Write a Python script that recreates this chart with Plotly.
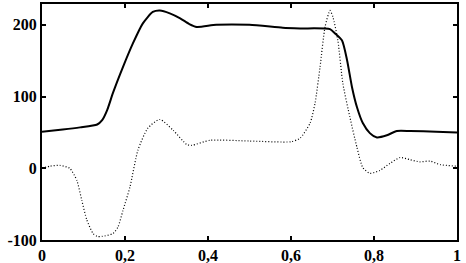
import plotly.graph_objects as go

# Solid curve
x_solid = [0.0, 0.05, 0.092, 0.133, 0.145, 0.157, 0.171, 0.195, 0.219, 0.243, 0.267, 0.284, 0.308,
           0.333, 0.355, 0.373, 0.42, 0.50, 0.58, 0.622, 0.694, 0.706, 0.723, 0.735, 0.747, 0.759,
           0.773, 0.79, 0.807, 0.831, 0.855, 0.887, 0.95, 1.0]
y_solid = [51, 54, 57, 61, 67, 81, 105, 141, 174, 202, 218, 220, 216,
           209, 201, 197, 200, 200, 196, 195, 194, 188, 178, 151, 113, 85,
           63, 49, 43, 46, 52, 52, 51, 50]

# Dotted curve
x_dot = [0.0, 0.02, 0.043, 0.067, 0.084, 0.096, 0.108, 0.123, 0.133, 0.145, 0.171, 0.183, 0.195,
         0.212, 0.231, 0.255, 0.284, 0.316, 0.349, 0.361, 0.405, 0.50, 0.60, 0.622, 0.646, 0.658,
         0.67, 0.682, 0.694, 0.701, 0.713, 0.725, 0.742, 0.759, 0.773, 0.79, 0.814, 0.839, 0.863,
         0.887, 0.91, 0.935, 0.96, 1.0]
y_dot = [0, 3, 4, 0, -17, -45, -72, -91, -95, -95, -91, -82, -59,
         -26, 25, 56, 68, 53, 33, 32, 39, 38, 37, 42, 63, 91,
         141, 197, 220, 211, 178, 118, 71, 29, 1, -7, -3, 7, 15,
         12, 9, 10, 5, 3]

x_ticks = [0, 0.2, 0.4, 0.6, 0.8, 1]
x_ticktext = ["0", "0,2", "0,4", "0,6", "0,8", "1"]
y_ticks = [-100, 0, 100, 200]
y_ticktext = ["-100", "0", "100", "200"]

fig = go.Figure()
fig.add_trace(go.Scatter(x=x_dot, y=y_dot, mode="lines",
                         line=dict(color="black", width=1.2, dash="1px,2px", shape="spline", smoothing=0.6)))
fig.add_trace(go.Scatter(x=x_solid, y=y_solid, mode="lines",
                         line=dict(color="black", width=2, shape="spline", smoothing=0.6)))

font = dict(family="Liberation Serif", size=16, color="black")
fig.update_layout(
    width=466, height=263,
    margin=dict(l=42, r=9, t=4, b=23),
    paper_bgcolor="white", plot_bgcolor="white",
    showlegend=False,
    font=font,
)
fig.update_xaxes(range=[0, 1], tickvals=x_ticks, ticktext=[f"<b>{t}</b>" for t in x_ticktext],
                 automargin=False,
                 showgrid=False, zeroline=False, showline=True, linecolor="black", linewidth=2,
                 mirror="allticks", ticks="inside", ticklen=4, tickwidth=2, tickcolor="black")
fig.update_yaxes(range=[-100, 229], tickvals=y_ticks, ticktext=[f"<b>{t}</b>" for t in y_ticktext],
                 automargin=False,
                 showgrid=False, zeroline=False, showline=True, linecolor="black", linewidth=2,
                 mirror="allticks", ticks="inside", ticklen=4, tickwidth=2, tickcolor="black")

fig.write_html("out.html", config={"displayModeBar": False},
               post_script="document.body.style.margin='0px';")
